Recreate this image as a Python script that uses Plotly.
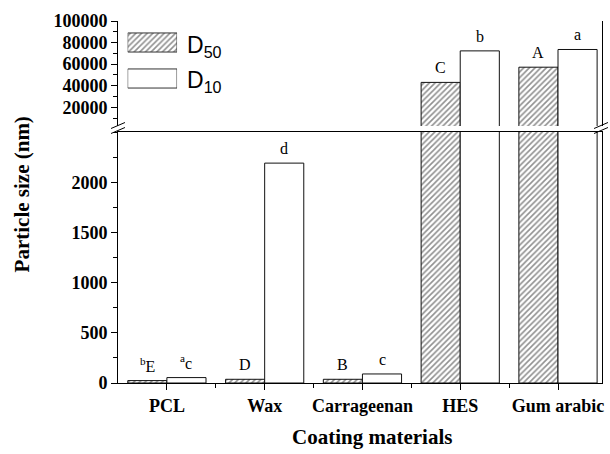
import plotly.graph_objects as go

# Particle size of microcapsules by coating material
categories = ["PCL", "Wax", "Carrageenan", "HES", "Gum arabic"]
d50 = [24, 37, 37, 43100, 57200]
d10 = [54, 2190, 90, 72300, 73600]
d50_letters = ["<sup>b</sup>E", "D", "B", "C", "A"]
d10_letters = ["<sup>a</sup>c", "d", "c", "b", "a"]
upper_ticks = [20000, 40000, 60000, 80000, 100000]
lower_ticks = [0, 500, 1000, 1500, 2000]

W, H = 610, 454
L, R, T, B = 118, 6, 21, 71
PW, PH = W - L - R, H - T - B


def px(x):
    return (x - L) / PW


def py(y):
    return (H - B - y) / PH


x = list(range(len(categories)))
serif = "Liberation Serif"
hatch = dict(shape="/", size=4, solidity=0.4, fgcolor="#222222", bgcolor="white")

fig = go.Figure()

# lower (0-2500) and upper (broken) panels share the same bars
for yax in ["y", "y2"]:
    fig.add_trace(go.Bar(x=x, y=d50, name="D50", yaxis=yax, showlegend=False,
                         marker=dict(color="white", pattern=hatch,
                                     line=dict(color="#111111", width=1))))
    fig.add_trace(go.Bar(x=x, y=d10, name="D10", yaxis=yax, showlegend=False,
                         marker=dict(color="white",
                                     line=dict(color="#111111", width=1))))

# legend swatches on their own small axis
fig.add_trace(go.Bar(x=[1, 1], y=[1, 0], base=0, orientation="h", width=0.53,
                     xaxis="x3", yaxis="y3", showlegend=False, hoverinfo="skip",
                     marker=dict(color="white",
                                 pattern=dict(shape=["/", ""], size=4, solidity=0.4,
                                              fgcolor="#222222", bgcolor="white"),
                                 line=dict(color="#333333", width=1))))

lower_top = 2500
lower_dom = [0, py(132)]
upper_dom = [py(126), 1]

tick_font = dict(family=serif, size=18, color="black", weight="bold")

fig.update_layout(
    width=W, height=H,
    margin=dict(l=L, r=R, t=T, b=B),
    plot_bgcolor="white", paper_bgcolor="white",
    barmode="group", bargap=0.2, bargroupgap=0,
    xaxis=dict(range=[-0.5, 4.45], tickvals=x, ticktext=categories,
               showline=True, linecolor="black", linewidth=1, mirror=True,
               ticks="outside", ticklen=6, tickcolor="black",
               minor=dict(tickvals=[0.5, 1.5, 2.5, 3.5], ticks="outside",
                          ticklen=4, tickcolor="black"),
               showgrid=False, zeroline=False, tickfont=tick_font, anchor="y"),
    yaxis=dict(domain=lower_dom, range=[0, lower_top], tickvals=lower_ticks,
               ticktext=[str(v) for v in lower_ticks],
               showline=True, linecolor="black", linewidth=1, mirror=True,
               ticks="outside", ticklen=6, tickcolor="black",
               minor=dict(dtick=250, tick0=0, ticks="outside", ticklen=4, tickcolor="black"),
               showgrid=False, zeroline=False, tickfont=tick_font),
    yaxis2=dict(domain=upper_dom, range=[2700, 100000],
                tickvals=upper_ticks, ticktext=[str(v) for v in upper_ticks],
                showline=True, linecolor="black", linewidth=1, mirror=True,
                ticks="outside", ticklen=6, tickcolor="black",
                minor=dict(dtick=10000, tick0=0, ticks="outside", ticklen=4, tickcolor="black"),
                showgrid=False, zeroline=False, tickfont=tick_font, anchor="x"),
    xaxis3=dict(domain=[px(127.7), px(177.3)], range=[0, 1], visible=False,
                anchor="y3", fixedrange=True),
    yaxis3=dict(domain=[py(96.5), py(24.5)], range=[-0.5, 1.5], visible=False,
                anchor="x3", fixedrange=True),
    showlegend=False,
)

ann = []
# significance letters above bars
for i in range(len(categories)):
    for val, txt, off in [(d50[i], d50_letters[i], -0.2), (d10[i], d10_letters[i], 0.2)]:
        yref = "y" if val < lower_top else "y2"
        ann.append(dict(x=i + off, y=val, xref="x", yref=yref, text=txt,
                        showarrow=False, yanchor="bottom", yshift=4,
                        font=dict(family=serif, size=16, color="black")))

# legend labels
for lbl, yc in [("D<sub>50</sub>", 46), ("D<sub>10</sub>", 82)]:
    ann.append(dict(x=px(185), y=py(yc), xref="paper", yref="paper", text=lbl,
                    showarrow=False, xanchor="left", yanchor="middle",
                    font=dict(family="Liberation Sans", size=23, color="black")))

# axis titles
ann.append(dict(x=px(22), y=py(194), xref="paper", yref="paper",
                text="Particle size (nm)", textangle=-90, showarrow=False,
                xanchor="center", yanchor="middle",
                font=dict(family=serif, size=21, color="black", weight="bold")))
ann.append(dict(x=px(373), y=py(437), xref="paper", yref="paper",
                text="Coating materials", showarrow=False,
                xanchor="center", yanchor="middle",
                font=dict(family=serif, size=21, color="black", weight="bold")))
fig.update_layout(annotations=ann)

# axis break marks
shapes = []
for xc in [118, 603]:
    for yc in [125.5, 130.5]:
        shapes.append(dict(type="line", xref="paper", yref="paper",
                           x0=px(xc - 7), y0=py(yc + 3), x1=px(xc + 7), y1=py(yc - 3),
                           line=dict(color="black", width=1)))
fig.update_layout(shapes=shapes)

fig.write_html("out.html")
